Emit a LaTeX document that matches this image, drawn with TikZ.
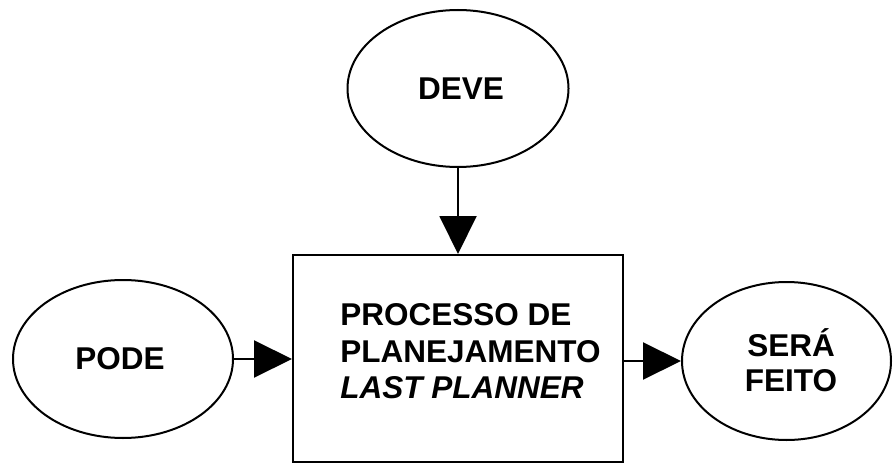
\documentclass[tikz,border=0pt]{standalone}
\usepackage{fontspec}
\setmainfont{Liberation Sans}
\usetikzlibrary{shapes.geometric,arrows.meta}
\begin{document}
\begin{tikzpicture}[x=1pt,y=-1pt,
  oval/.style={draw,line width=2pt,ellipse,inner sep=0pt},
  txt/.style={font=\fontsize{31.5}{35.5}\selectfont\bfseries,align=center,inner sep=0pt},
  arr/.style={line width=2pt,-{Triangle[length=38pt,width=37pt]}}]
\useasboundingbox (0,0) rectangle (893,465);
\node[oval,minimum width=221pt,minimum height=157pt] (deve) at (458,88.5) {};
\node[txt] (devet) at (461,88.5) {DEVE};
\node[oval,minimum width=220pt,minimum height=158pt] (pode) at (123,359) {};
\node[txt] (podet) at (120,359) {PODE};
\node[oval,minimum width=209pt,minimum height=158pt] (sera) at (786.5,361) {};
\node[txt] (serat) at (791,360) {SERÁ\\FEITO};
\node[draw,line width=2pt,minimum width=330pt,minimum height=207pt,inner sep=0pt] (proc) at (458,358.5) {};
\node[txt,align=left,font=\fontsize{31.5}{36.5}\selectfont\bfseries] (proct) at (470.5,351.5) {PROCESSO DE\\PLANEJAMENTO\\\textit{LAST PLANNER}};
\draw[arr] (deve.south) -- (deve.south |- proc.north);
\draw[arr] (pode.east) -- (pode.east -| proc.west);
\draw[arr] (proc.east |- sera.west) -- (sera.west);
\end{tikzpicture}
\end{document}
